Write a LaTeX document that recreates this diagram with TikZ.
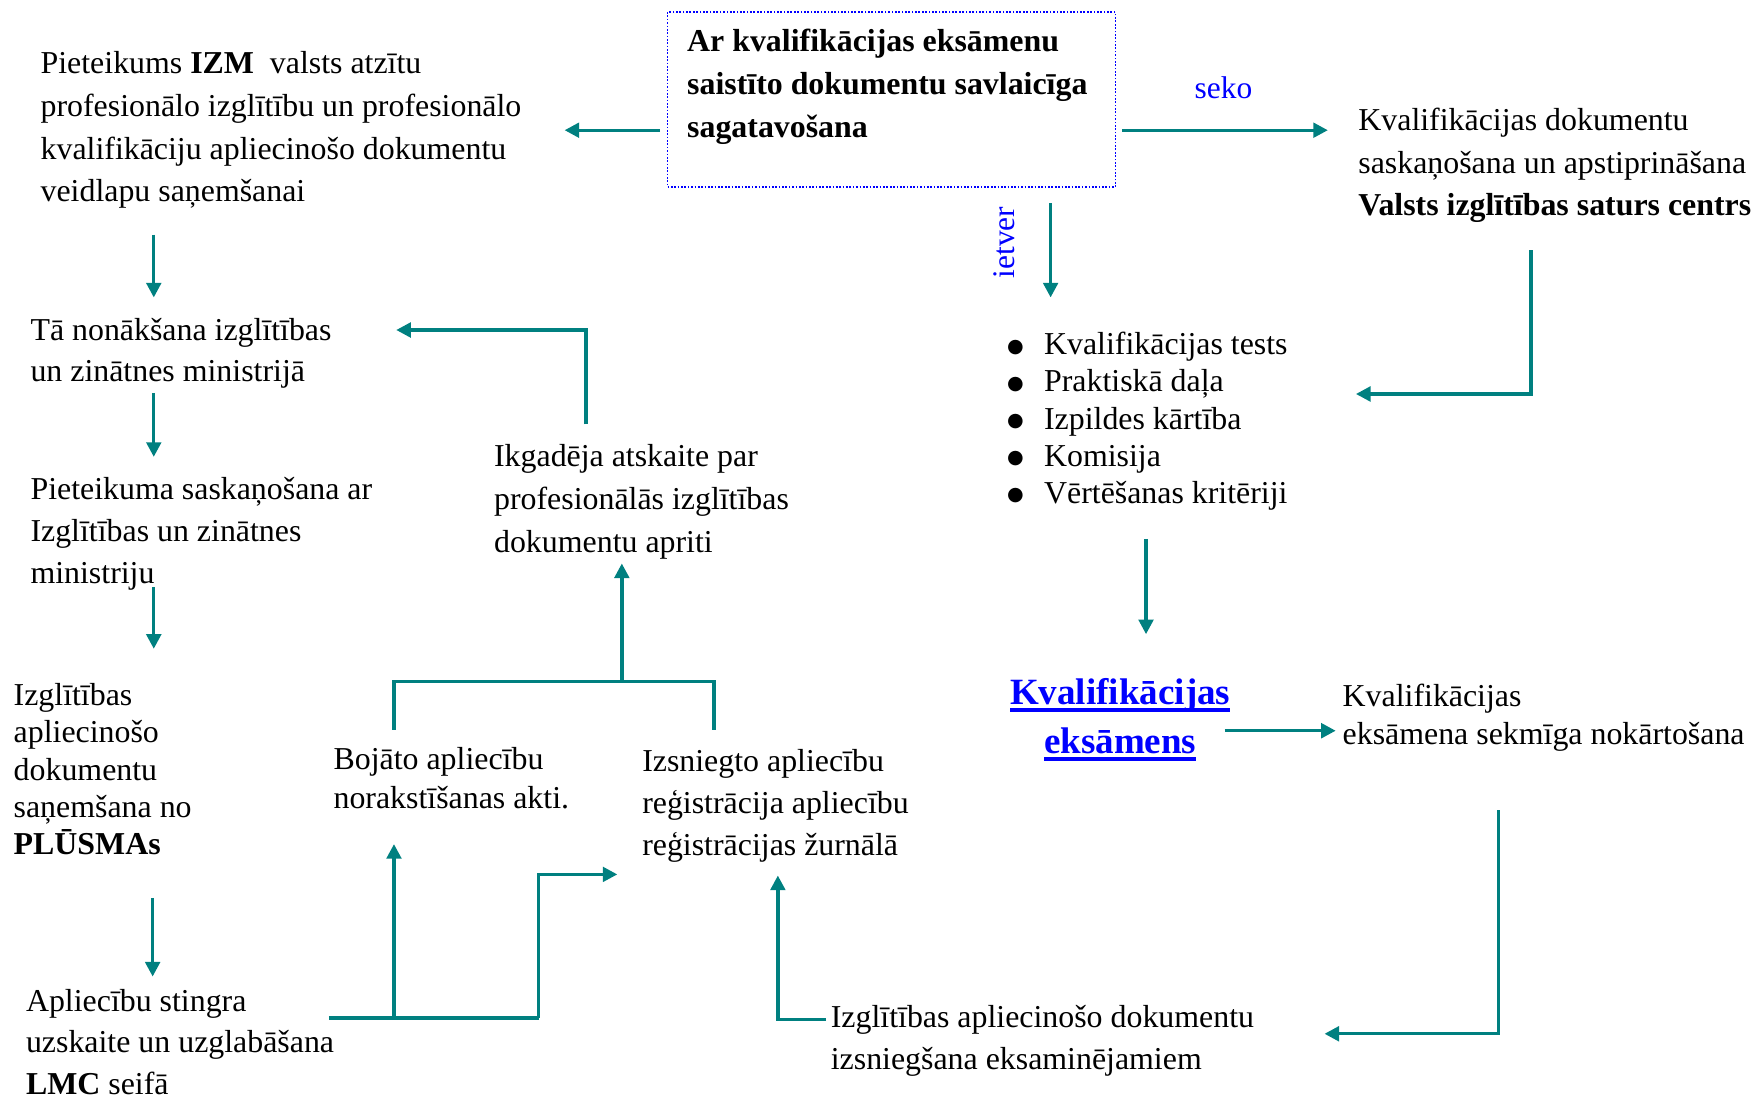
\documentclass[tikz,border=0pt]{standalone}
\usepackage{fontspec}
\setmainfont{Liberation Serif}
\newfontfamily\dejavu{DejaVu Sans}
\usetikzlibrary{arrows.meta}
\definecolor{tealc}{RGB}{0,128,128}
\definecolor{lblue}{RGB}{0,0,255}
\newcommand\thickul[1]{\setbox0=\hbox{#1}\leavevmode\rlap{\color{lblue}\vrule height -3pt depth 6.5pt width \wd0}\box0}
\newcommand\bul{\makebox[34pt][l]{\hspace{1pt}\raisebox{2.5pt}{\dejavu\fontsize{17}{17}\selectfont ●}}}
\begin{document}
\begin{tikzpicture}[x=1pt,y=-1pt,
  txt/.style={anchor=north west,inner sep=0pt,align=left,font=\fontsize{28.4}{#1}\selectfont},
  txt/.default=38,
  arr/.style={draw=tealc,line width=3pt,-{Triangle[length=13pt,width=13pt]}},
  ln/.style={draw=tealc,line width=3pt},
  lbl/.style={inner sep=0pt,text=lblue,font=\fontsize{28}{34}\selectfont}]
\useasboundingbox (0,0) rectangle (1568,978);

% top box
\node[draw=lblue,line width=1.5pt,dash pattern=on 1.5pt off 1.5pt,anchor=north west,
  minimum width=399pt,minimum height=156pt,inner sep=0pt] (top) at (594,10) {};
\node[txt,font=\fontsize{28.4}{38}\bfseries] (toptxt) at (612,26)
  {Ar kvalifikācijas eksāmenu\\saistīto dokumentu savlaicīga\\sagatavošana};

% texts
\node[txt] (n1) at (36,46) {Pieteikums \textbf{IZM}\ \ valsts atzītu\\profesionālo izglītību un profesionālo\\kvalifikāciju apliecinošo dokumentu\\veidlapu saņemšanai};
\node[txt=37] (n2) at (27,283) {Tā nonākšana izglītības\\un zinātnes ministrijā};
\node[txt=37.5] (n3) at (27,425) {Pieteikuma saskaņošana ar\\Izglītības un zinātnes\\ministriju};
\node[txt=33] (n4) at (12,609) {Izglītības\\apliecinošo\\dokumentu\\saņemšana no\\\textbf{PLŪSMAs}};
\node[txt=37] (n5) at (23,881) {Aplie\-cību stingra\\uzskaite un uzglabāšana\\\textbf{LMC} seifā};
\node[txt] (n6) at (440,396) {Ikgadēja atskaite par\\profesionālās izglītības\\dokumentu apriti};
\node[txt=34] (n7) at (297,666) {Bojāto apliecību\\norakstīšanas akti.};
\node[txt=37.5] (n8) at (572,667) {Izsniegto apliecību\\reģistrācija apliecību\\reģistrācijas žurnālā};
\node[txt] (n9) at (740,895) {Izglītības apliecinošo dokumentu\\izsniegšana eksaminējamiem};
\node[txt] (n10) at (1210,96) {Kvalifikācijas dokumentu\\saskaņošana un apstiprināšana\\\textbf{Valsts izglītības saturs centrs}};
\node[txt=33] (n11) at (896,296) {\bul Kvalifikācijas tests\\\bul Praktiskā daļa\\\bul Izpildes kārtība\\\bul Komisija\\\bul Vērtēšanas kritēriji};
\node[anchor=north,inner sep=0pt,align=center,text=lblue,font=\fontsize{33}{44}\bfseries] (n12) at (998,604)
  {\thickul{Kvalifikācijas}\\\thickul{eksāmens}};
\node[txt=34] (n13) at (1196,609) {Kvalifikācijas\\eksāmena sekmīga nokārtošana};

% labels
\node[lbl] (seko) at (1090,78) {seko};
\node[lbl,rotate=90] (ietver) at (895,216) {ietver};

% connectors
\draw[arr] (588,116) -- (503,116);
\draw[arr] (1000,116) -- (1183,116);
\draw[arr] (936,181) -- (936,265);
\draw[arr] (137,209) -- (137,265);
\draw[arr] (137,350) -- (137,407);
\draw[arr] (137,523) -- (137,578);
\draw[arr] (136,800) -- (136,870);
\draw[arr] (522,378) -- (522,294) -- (353,294);
\draw[arr] (554,607) -- (554,502);
\draw[ln] (351,650) -- (351,607) -- (636,607) -- (636,650);
\draw[ln] (293,907) -- (480,907);
\draw[arr] (351,907) -- (351,752);
\draw[arr] (480,907) -- (480,779) -- (550,779);
\draw[arr] (736,908) -- (693,908) -- (693,780);
\draw[arr] (1364,223) -- (1364,351) -- (1208,351);
\draw[arr] (1021,480) -- (1021,565);
\draw[arr] (1091,651) -- (1190,651);
\draw[arr] (1335,722) -- (1335,921) -- (1180,921);
\end{tikzpicture}
\end{document}
